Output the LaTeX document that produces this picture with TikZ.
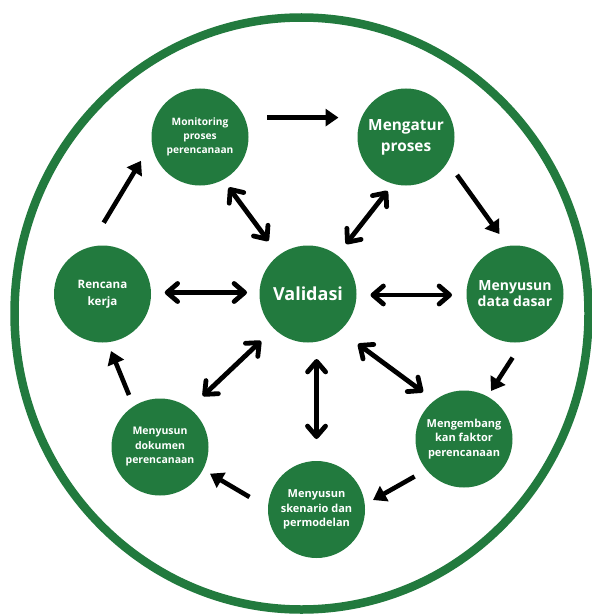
\documentclass[tikz,border=0pt]{standalone}
\usepackage{fontspec}
\setmainfont{Open Sans}
\usetikzlibrary{arrows.meta,calc}
\definecolor{cgreen}{RGB}{34,122,62}
\newcommand{\fsz}[2]{\bfseries\fontsize{#1}{#2}\selectfont}
\begin{document}
\begin{tikzpicture}[x=1pt,y=-1pt,
  stage/.style={circle,fill=cgreen,minimum size=97pt,inner sep=0pt,text=white,align=center},
  flow/.style={line width=4.6pt,-{Triangle[length=13pt,width=17pt]}},
  both/.style={line width=4.8pt,{Straight Barb[length=10.5pt,width=18pt,round]}-{Straight Barb[length=10.5pt,width=18pt,round]}}]
\useasboundingbox (0,0) rectangle (591,615);
\fill[white] (0,0) rectangle (591,615);
\draw[cgreen,line width=8.5pt] (301.5,313.5) ellipse [x radius=287, y radius=296];

\node[stage,font=\fsz{10.2}{14}] (mon) at (200,137) {Monitoring\\proses\\perencanaan};
\node[stage,font=\fsz{15.4}{21}] (mg) at (406,137) {Mengatur\\proses};
\node[stage,font=\fsz{11.6}{16.5}] (rk) at (102.5,294) {Rencana\\kerja};
\node[stage,font=\fsz{18}{22}] (val) at (308,294) {Validasi};
\node[stage,font=\fsz{14}{16}] (dd) at (515,294) {Menyusun\\data dasar};
\node[stage,font=\fsz{10.5}{14.5}] (dok) at (160,447) {Menyusun\\dokumen\\perencanaan};
\node[stage,font=\fsz{11}{14.5}] (mk) at (464,439) {Mengembang\\kan faktor\\perencanaan};
\node[stage,font=\fsz{11}{14.5}] (sk) at (316.5,509.5) {Menyusun\\skenario dan\\permodelan};

\draw[flow] ($(mon)+(67,-19.4)$) -- ($(mg)+(-67.5,-19.4)$);
\draw[flow] ($(mg)+(51,38)$) -- ($(dd)+(-15.6,-60)$);
\draw[flow] ($(dd)+(-2.4,63.6)$) -- ($(mk)+(27,-48)$);
\draw[flow] ($(mk)+(-49.4,37.5)$) -- ($(sk)+(56.5,-9.5)$);
\draw[flow] ($(sk)+(-67,-12.5)$) -- ($(dok)+(50,26.7)$);
\draw[flow] ($(dok)+(-31,-52)$) -- ($(rk)+(8.5,57)$);
\draw[flow] ($(rk)+(1.2,-71.3)$) -- ($(mon)+(-59,23.8)$);

\draw[both] ($(mon)+(28.8,50.5)$) -- ($(val)+(-39.6,-53)$);
\draw[both] ($(mg)+(-18.5,54)$) -- ($(val)+(38,-50)$);
\draw[both] ($(rk)+(62.2,-1.5)$) -- ($(val)+(-61,-1.5)$);
\draw[both] ($(val)+(62.5,1)$) -- ($(dd)+(-63,1)$);
\draw[both] ($(val)+(-47,47)$) -- ($(dok)+(42.8,-51)$);
\draw[both] ($(val)+(50,50)$) -- ($(mk)+(-41,-47)$);
\draw[both] ($(val)+(8.6,65)$) -- ($(sk)+(0,-70.5)$);
\end{tikzpicture}
\end{document}
